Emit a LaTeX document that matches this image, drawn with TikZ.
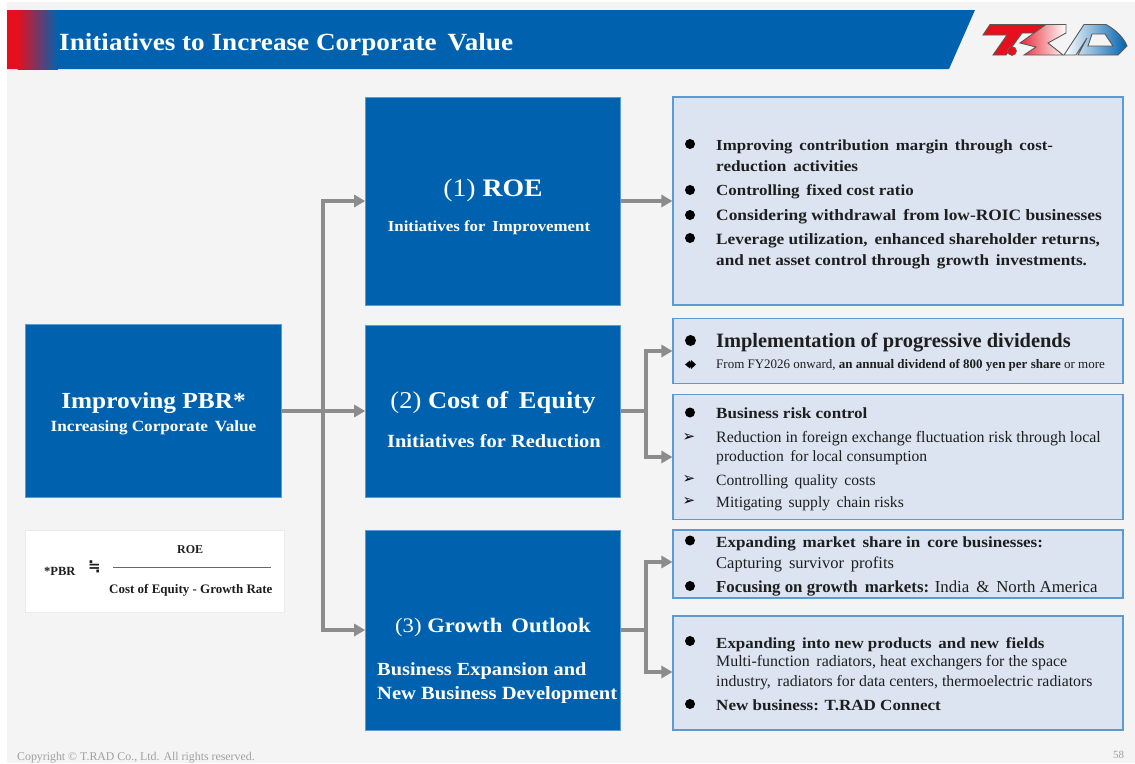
\documentclass[tikz,border=0pt]{standalone}
\usepackage{fontspec}
\setmainfont{Liberation Serif}
\newfontfamily\wide[FakeStretch=1.1]{Liberation Serif}
\newfontfamily\dejavu{DejaVu Sans}
\usetikzlibrary{arrows.meta,calc}
\definecolor{tradblue}{HTML}{0062AE}
\definecolor{tradred}{HTML}{E60F1E}
\definecolor{boxfill}{HTML}{DBE4F0}
\definecolor{boxline}{HTML}{5B9BD5}
\definecolor{bgc}{HTML}{F4F4F4}
\definecolor{conn}{HTML}{8C8C8C}
\definecolor{txt}{HTML}{1E1E1E}
\definecolor{foot}{HTML}{A0A0A0}
\tikzset{
  bluebox/.style={fill=tradblue,draw=boxline,line width=.6pt,inner sep=0pt},
  infobox/.style={fill=boxfill,draw=boxline,line width=1.1pt,inner sep=0pt},
  connector/.style={draw=conn,line width=3.2pt},
  arrowed/.style={connector,-{Triangle[length=11pt,width=12pt]}},
  wt/.style={text=white,inner sep=0pt},
  lab/.style={anchor=base west,inner sep=0pt,text=txt},
  bul/.style={anchor=center,inner sep=0pt,text=black},
  logoline/.style={draw=black!65,line width=.9pt},
}
\newcommand{\Sz}[2]{\fontsize{#1}{#2}\selectfont}
\newcommand{\dotb}[1]{\fill[black] #1 circle (5pt);}
\newcommand{\W}[1]{\wide\bfseries\fontsize{#1}{#1}\selectfont}
\begin{document}
\begin{tikzpicture}[x=1pt,y=-1pt]
\useasboundingbox (0,0) rectangle (1135,763);
\fill[white] (0,0) rectangle (1135,763);
\fill[bgc] (7,2) rectangle (1135,763);
% header
\fill[tradblue] (7,10) -- (975,10) -- (949,69) -- (7,69) -- cycle;
\fill[tradred] (7,10) rectangle (18,69);
\shade[left color=tradred,right color=tradblue] (17.5,10) rectangle (58,69);
\node[wt,anchor=base west,font=\W{24.7}] (title) at (59,50) {Initiatives to Increase Corporate\, Value};
% logo
\shade[left color=tradred,right color=tradred,logoline]
 (990,24.5) -- (1052,24.5) -- (1046,33) -- (1022,33) -- (1006,55) -- (993,55) -- (1007,35) -- (983,35) -- cycle;
\fill[tradred,draw=black!60,line width=.6pt] (1012,51) circle (4.5pt);
\shade[left color=tradred!90,right color=white,logoline]
 (1020,43) -- (1046,24.5) -- (1066,24.5) -- (1066,33) -- (1048,43) -- (1063,55) -- (1024,55) -- (1036,47) -- cycle;
\shade[left color=white,right color=tradblue,logoline,even odd rule]
 (1064,55) -- (1084,24.5) -- (1106,24.5) .. controls (1116,30) and (1124,38) .. (1127,46) -- (1118,55) -- (1078,55) -- (1087,38) -- (1076,55) -- cycle
 (1092,34) -- (1105,34) -- (1113,46) -- (1088,46) -- cycle;
% blue boxes
\node[bluebox,minimum width=256pt,minimum height=173pt] (pbr) at (153.5,411) {};
\node[bluebox,minimum width=255pt,minimum height=208pt] (roe) at (493,201) {};
\node[bluebox,minimum width=255pt,minimum height=172pt] (coe) at (493,411) {};
\node[bluebox,minimum width=255pt,minimum height=200pt] (gro) at (493,630) {};
% info boxes
\node[infobox,minimum width=450pt,minimum height=208pt] (b1) at (898,201) {};
\node[infobox,minimum width=450pt,minimum height=65pt] (b2) at (898,351) {};
\node[infobox,minimum width=450pt,minimum height=125pt] (b3) at (898,457) {};
\node[infobox,minimum width=450pt,minimum height=68pt] (b4) at (898,564) {};
\node[infobox,minimum width=450pt,minimum height=114pt] (b5) at (898,673) {};
% formula
\node[fill=white,draw=black!8,line width=.5pt,minimum width=259pt,minimum height=82pt,inner sep=0pt] (fb) at (155,571) {};
% connectors
\coordinate (j0) at (323,411);
\coordinate (jt) at (323,201);
\coordinate (jb) at (323,630);
\coordinate (j1) at (646,411);
\coordinate (j1t) at (646,351);
\coordinate (j1b) at (646,457);
\coordinate (j2) at (646,630);
\coordinate (j2t) at (646,562);
\coordinate (j2b) at (646,672);
\draw[arrowed] (pbr.east) -- (coe.west);
\draw[arrowed] (j0) -- (jt) -- (roe.west);
\draw[arrowed] (j0) -- (jb) -- (gro.west);
\draw[arrowed] (roe.east) -- (b1.west);
\draw[connector] (coe.east) -- (j1);
\draw[arrowed] (j1) -- (j1t) -- (b2.west);
\draw[arrowed] (j1) -- (j1b) -- (b3.west);
\draw[connector] (gro.east) -- (j2);
\draw[arrowed] (j2) -- (j2t) -- (b4.west |- j2t);
\draw[arrowed] (j2) -- (j2b) -- (b5.west |- j2b);
% blue box texts
\node[wt,font=\W{23}] (t1) at (153.5,403.5) {Improving PBR*};
\node[wt,font=\W{15.6}] (t2) at (153.5,427.5) {Increasing Corporate\, Value};
\node[wt,font=\wide\Sz{25.2}{30}] (t3) at (493,190) {(1) \textbf{ROE}};
\node[wt,font=\W{15.3}] (t4) at (489,228) {Initiatives for\, Improvement};
\node[wt,font=\wide\Sz{24.1}{29}] (t5) at (493,403) {(2) \textbf{Cost of\, Equity}};
\node[wt,font=\W{18.6}] (t6) at (494,441) {Initiatives for Reduction};
\node[wt,font=\wide\Sz{20.6}{25}] (t7) at (493,628) {(3) \textbf{Growth\, Outlook}};
\node[wt,font=\W{18.5},anchor=base west] (t8) at (377,675) {Business Expansion and};
\node[wt,font=\W{18.7},anchor=base west] (t9) at (377,699) {New Business Development};
% formula text
\node[lab,font=\bfseries\Sz{12.5}{14}] (f1) at (44,575) {*PBR};
\node[lab,font=\bfseries\Sz{15}{18}] (f2) at (88,571) {\dejavu ≒};
\node[lab,font=\bfseries\Sz{12}{14}] (f3) at (177,553) {ROE};
\node[lab,font=\bfseries\Sz{13}{15}] (f4) at (109,593) {Cost of Equity - Growth Rate};
\coordinate (fa) at (113,567);
\coordinate (fc) at (271,567);
\draw[black!60,line width=1pt] (fa) -- (fc);
% box 1
\dotb{(690,144)}
\node[lab,font=\W{15.3}] (a1) at (716,150) {Improving\, contribution\, margin\, through\, cost-};
\node[lab,font=\W{15.6}] (a2) at (716,171) {reduction\, activities};
\dotb{(690,190)}
\node[lab,font=\W{15.4}] (a3) at (716,195) {Controlling\, fixed cost ratio};
\dotb{(690,215)}
\node[lab,font=\W{15.8}] (a4) at (716,220) {Considering withdrawal\, from low-ROIC businesses};
\dotb{(690,238)}
\node[lab,font=\W{15.7}] (a5) at (716,244) {Leverage utilization,\, enhanced shareholder returns,};
\node[lab,font=\W{15.6}] (a6) at (716,265) {and net asset control through\, growth\, investments.};
% box 2
\fill[black] (690.5,340.5) circle (5.5pt);
\node[lab,font=\bfseries\Sz{20.4}{24}] (c1) at (716,347) {Implementation of progressive dividends};
\fill[black] (690,364.5) circle (3pt);
\fill[black] (685,364.5) -- (690,360.5) -- (690,368.5) -- cycle;
\fill[black] (696,364.5) -- (691,360) -- (691,369) -- cycle;
\node[lab,font=\Sz{13}{15}] (c2) at (716,368) {From FY2026 onward, \textbf{an annual dividend of 800 yen per share} or more};
% box 3
\dotb{(690,412.5)}
\node[lab,font=\W{15.5}] (d1) at (716,418) {Business risk control};
\node[lab,font=\Sz{15.9}{18}] (d2) at (716,442) {Reduction in foreign exchange fluctuation risk through local};
\node[lab,font=\Sz{15.6}{18}] (d3) at (716,461) {production\, for local consumption};
\node[lab,font=\Sz{15.6}{18}] (d4) at (716,485) {Controlling\, quality\, costs};
\node[lab,font=\Sz{15.6}{18}] (d5) at (716,507) {Mitigating\, supply\, chain risks};
\node[bul,font=\dejavu\Sz{15}{16}] (d6) at (689,437) {➢};
\node[bul,font=\dejavu\Sz{15}{16}] (d7) at (689,479.5) {➢};
\node[bul,font=\dejavu\Sz{15}{16}] (d8) at (689,501.5) {➢};
% box 4
\dotb{(690,540.5)}
\node[lab,font=\W{15.5}] (e1) at (716,547) {Expanding\, market\, share in\, core businesses:};
\node[lab,font=\Sz{16.5}{18}] (e2) at (716,568) {Capturing\, survivor\, profits};
\dotb{(690,586)}
\node[lab,font=\Sz{16.8}{18}] (e3) at (716,592) {\textbf{Focusing on growth\, markets:} India\, \&\, North America};
% box 5
\dotb{(690,641)}
\node[lab,font=\W{15.4}] (g1) at (716,648) {Expanding\, into new products\, and new\, fields};
\node[lab,font=\Sz{15.9}{17}] (g2) at (716,666) {Multi-function\, radiators, heat exchangers for the space};
\node[lab,font=\Sz{15.8}{17}] (g3) at (716,686) {industry,\, radiators for data centers, thermoelectric radiators};
\dotb{(690,704)}
\node[lab,font=\W{15.5}] (g4) at (716,710) {New business: T.RAD Connect};
% footer
\node[lab,text=foot,font=\Sz{11.85}{13}] (ft) at (17,760) {Copyright © T.RAD Co., Ltd. All rights reserved.};
\node[lab,text=foot,font=\Sz{11}{13}] (pg) at (1113,758) {58};
\end{tikzpicture}
\end{document}
